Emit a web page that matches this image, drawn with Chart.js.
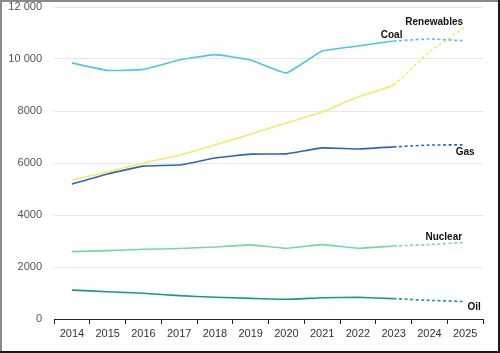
<!DOCTYPE html>
<html>
<head>
<meta charset="utf-8">
<script src="https://cdn.jsdelivr.net/npm/chart.js@4/dist/chart.umd.min.js"></script>
<style>
  html, body { margin: 0; padding: 0; background: #fff; }
  #wrap { width: 500px; height: 353px; position: relative; }
</style>
</head>
<body>
<div id="wrap"><canvas id="myChart" width="500" height="353"></canvas></div>
<script>
// years on the x axis
const years = ["2014", "2015", "2016", "2017", "2018", "2019", "2020", "2021", "2022", "2023", "2024", "2025"];

// values (2024-2025 are forecast, dashed)
const coal = [9850, 9560, 9600, 9960, 10170, 9960, 9460, 10310, 10500, 10690, 10770, 10700];
const renewables = [5350, 5650, 6000, 6300, 6690, 7110, 7540, 7960, 8540, 9000, 10270, 11230];
const gas = [5190, 5580, 5880, 5920, 6190, 6340, 6350, 6580, 6540, 6620, 6690, 6700];
const nuclear = [2590, 2630, 2680, 2710, 2770, 2850, 2720, 2860, 2720, 2810, 2860, 2950];
const oil = [1110, 1050, 990, 900, 835, 795, 757, 820, 835, 782, 718, 667];

const yTicks = [0, 2000, 4000, 6000, 8000, 10000, 12000];

const lastActual = 9; // index of 2023, dashes after it

function serie(label, values, color) {
  return {
    label: label,
    data: values,
    borderColor: color,
    backgroundColor: color,
    borderWidth: 1.6,
    pointRadius: 0,
    tension: 0.1,
    segment: {
      borderDash: ctx => ctx.p0DataIndex >= lastActual ? [3, 2.5] : undefined
    }
  };
}

const data = {
  labels: years,
  datasets: [
    serie("Coal", coal, "#4cc6e3"),
    serie("Renewables", renewables, "#f0ec6a"),
    serie("Gas", gas, "#2f66b2"),
    serie("Nuclear", nuclear, "#6fdc9e"),
    serie("Oil", oil, "#1a958a")
  ]
};

// text labels near the line ends
const lineLabels = {
  id: "lineLabels",
  afterDatasetsDraw(chart, args, opts) {
    const ctx = chart.ctx;
    ctx.save();
    ctx.font = "bold 10px 'Liberation Sans', Arial, sans-serif";
    ctx.fillStyle = "#111";
    ctx.textBaseline = "middle";
    opts.items.forEach(it => {
      const meta = chart.getDatasetMeta(it.ds);
      const pt = meta.data[it.idx];
      ctx.textAlign = it.align;
      ctx.fillText(chart.data.datasets[it.ds].label, pt.x + it.dx, pt.y + it.dy);
    });
    ctx.restore();
  }
};

// frame round the picture
const frame = {
  id: "frame",
  afterDraw(chart) {
    const ctx = chart.ctx;
    const w = chart.width, h = chart.height;
    ctx.save();
    ctx.fillStyle = "#8a8a8a";
    ctx.fillRect(0, 0, w, 2);
    ctx.fillRect(0, 0, 2, h);
    ctx.fillStyle = "#1a1a1a";
    ctx.fillRect(0, h - 2, w, 2);
    ctx.fillRect(w - 2, 0, 2, h);
    ctx.restore();
  }
};

const config = {
  type: "line",
  data: data,
  options: {
    responsive: false,
    animation: false,
    layout: { padding: { top: 7, right: 17, bottom: 0, left: 0 } },
    plugins: {
      legend: false,
      tooltip: { enabled: false },
      lineLabels: {
        items: [
          { ds: 1, idx: 11, dx: -2, dy: -5, align: "right" },
          { ds: 0, idx: 9, dx: -2, dy: -6, align: "center" },
          { ds: 2, idx: 11, dx: 0, dy: 7, align: "center" },
          { ds: 3, idx: 11, dx: -3, dy: -5, align: "right" },
          { ds: 4, idx: 11, dx: 9, dy: 6, align: "center" }
        ]
      }
    },
    scales: {
      x: {
        offset: true,
        afterFit: s => { s.height = 34; },
        border: { display: true, color: "#222", width: 1 },
        grid: {
          offset: true,
          drawOnChartArea: false,
          drawTicks: true,
          tickLength: 5,
          color: "#222"
        },
        ticks: {
          color: "#333",
          padding: 3,
          maxRotation: 0,
          autoSkip: false,
          font: { family: "'Liberation Sans', Arial, sans-serif", size: 11 }
        }
      },
      y: {
        min: 0,
        max: 12000,
        afterFit: s => { s.width = 54; s.paddingTop = 0; s.paddingBottom = 0; },
        afterBuildTicks: s => { s.ticks = yTicks.map(v => ({ value: v })); },
        border: { display: false },
        grid: { color: "#e6e6e6", drawTicks: false, lineWidth: 1 },
        ticks: {
          color: "#555",
          padding: 12,
          font: { family: "'Liberation Sans', Arial, sans-serif", size: 11 },
          callback: v => v >= 10000 ? String(v).replace(/(\d)(\d{3})$/, "$1 $2") : String(v)
        }
      }
    }
  },
  plugins: [lineLabels, frame]
};

const context = document.getElementById("myChart").getContext("2d");
const chart = new Chart(context, config);
</script>
</body>
</html>
